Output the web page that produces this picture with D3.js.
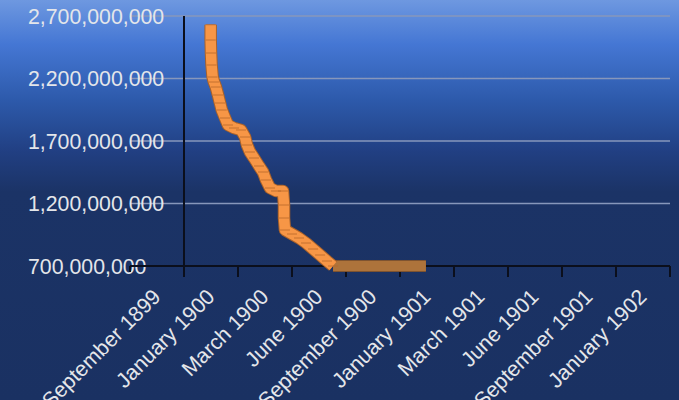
<!DOCTYPE html>
<html>
<head>
<meta charset="utf-8">
<script src="https://cdn.jsdelivr.net/npm/d3@7"></script>
<style>
  html, body { margin: 0; padding: 0; background: #1a3162; }
  svg { display: block; }
  text { font-family: "Liberation Sans", Arial, sans-serif; }
</style>
</head>
<body>
<svg id="chart" width="679" height="400"></svg>
<script>
// ---- data ----
const categories = ["September 1899", "January 1900", "March 1900", "June 1900",
  "September 1900", "January 1901", "March 1901", "June 1901", "September 1901", "January 1902"];
const yTicks = [700000000, 1200000000, 1700000000, 2200000000, 2700000000];
// position along the category axis (in category units) and value
const pointPos = [1.494, 1.494, 1.50, 1.51, 1.53, 1.555, 1.59, 1.63, 1.667, 1.70,
  1.76, 1.815, 1.926, 2.056, 2.13, 2.167, 2.222, 2.296, 2.389, 2.463,
  2.519, 2.593, 2.704, 2.833, 2.852, 2.852, 2.87, 3.0, 3.13, 3.26,
  3.39, 3.52, 3.648, 3.76, 5.48];
const pointValues = [2630000000, 2508000000, 2404000000, 2308000000, 2212000000, 2172000000, 2132000000, 2068000000, 2004000000, 1948000000,
  1884000000, 1828000000, 1804000000, 1788000000, 1732000000, 1668000000, 1612000000, 1564000000, 1500000000, 1452000000,
  1388000000, 1324000000, 1300000000, 1300000000, 1188000000, 1084000000, 988000000, 956000000, 924000000, 884000000,
  836000000, 788000000, 740000000, 700000000, 700000000];

(function () {
const W = 679, H = 400;
const svg = d3.select("#chart");

// background gradient
const defs = svg.append("defs");
const grad = defs.append("linearGradient").attr("id", "bg").attr("x1", 0).attr("y1", 0).attr("x2", 0).attr("y2", 1);
[[0, "#6e98e0"], [0.11, "#4577d4"], [0.25, "#2d5aab"], [0.38, "#213f82"], [0.48, "#1b3366"], [1, "#1a3162"]]
  .forEach(([o, c]) => grad.append("stop").attr("offset", o).attr("stop-color", c));
svg.append("rect").attr("width", W).attr("height", H).attr("fill", "url(#bg)");

const pLeft = 130, pRight = 670, pTop = 16, pBottom = 266;
const xBand = d3.scaleBand().domain(categories).range([pLeft, pRight]);
const xLin = d3.scaleLinear().domain([0, categories.length]).range([pLeft, pRight]);
const y = d3.scaleLinear().domain([700000000, 2700000000]).range([pBottom, pTop]);
const fmt = d3.format(",");
const fs = 21.3;

// gridlines
svg.append("g").selectAll("line").data(yTicks.slice(1)).join("line")
  .attr("x1", pLeft).attr("x2", pRight)
  .attr("y1", d => y(d)).attr("y2", d => y(d))
  .attr("stroke", "#8797bb").attr("stroke-width", 1.6);

// y labels (left aligned)
svg.append("g").selectAll("text").data(yTicks).join("text")
  .attr("x", 28).attr("y", d => y(d)).attr("dy", "0.36em")
  .attr("text-anchor", "start").attr("fill", "#e4e6ea")
  .attr("font-size", fs)
  .text(d => fmt(d));

// x axis line + ticks
const xAxisG = svg.append("g");
xAxisG.append("line").attr("x1", pLeft).attr("x2", pRight).attr("y1", pBottom).attr("y2", pBottom)
  .attr("stroke", "#0b0f1c").attr("stroke-width", 2);
const tickVals = d3.range(0, categories.length + 1);
xAxisG.selectAll("line.tick").data(tickVals).join("line").attr("class", "tick")
  .attr("x1", d => xLin(d)).attr("x2", d => xLin(d))
  .attr("y1", bottomY = pBottom).attr("y2", d => d === 0 ? pBottom + 6 : pBottom + 11)
  .attr("stroke", "#0b0f1c").attr("stroke-width", 2);
// y axis line
svg.append("line").attr("x1", xLin(1)).attr("x2", xLin(1)).attr("y1", pTop).attr("y2", pBottom + 11)
  .attr("stroke", "#0b0f1c").attr("stroke-width", 2);

// x labels
svg.append("g").selectAll("text").data(categories).join("text")
  .attr("transform", d => `translate(${xBand(d) + xBand.bandwidth() / 2 + 5},${298}) rotate(-45)`)
  .attr("text-anchor", "end").attr("fill", "#e4e6ea").attr("font-size", fs)
  .text(d => d);

// series
const pts = pointPos.map((p, i) => [xLin(p), y(pointValues[i])]);
const lastVal = pointValues[pointValues.length - 1];
let plateauStart = pts.length - 1;
while (plateauStart > 0 && pointValues[plateauStart - 1] === lastVal) plateauStart--;
const mainPts = pts.slice(0, plateauStart + 1);
const platPts = pts.slice(plateauStart);
const line = d3.line();

// plateau (darker)
svg.append("path").attr("d", line(platPts)).attr("fill", "none")
  .attr("stroke", "#7e5330").attr("stroke-width", 12);
svg.append("path").attr("d", line(platPts)).attr("fill", "none")
  .attr("stroke", "#ad733b").attr("stroke-width", 10);

// main line
svg.append("path").attr("d", line(mainPts)).attr("fill", "none")
  .attr("stroke", "#a9622a").attr("stroke-width", 12.5).attr("stroke-linejoin", "round");
svg.append("path").attr("d", line(mainPts)).attr("fill", "none")
  .attr("stroke", "#f79646").attr("stroke-width", 10.5).attr("stroke-linejoin", "round");

// point markers (texture)
svg.append("g").selectAll("line").data(mainPts).join("line")
  .attr("x1", d => d[0] - 5).attr("x2", d => d[0] + 5)
  .attr("y1", d => d[1]).attr("y2", d => d[1])
  .attr("stroke", "#b8692b").attr("stroke-width", 1).attr("opacity", 0.8);
})();
</script>
</body>
</html>
